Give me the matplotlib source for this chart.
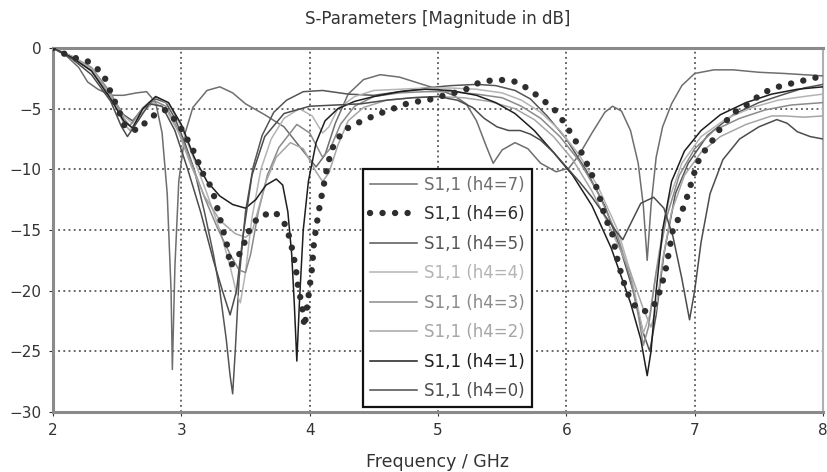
import numpy as np
import matplotlib
matplotlib.use("Agg")
import matplotlib.pyplot as plt


# S11 curves (frequency in GHz, magnitude in dB)
f_h7 = [2.0, 2.1, 2.2, 2.27, 2.35, 2.45, 2.55, 2.65, 2.73, 2.8, 2.85, 2.89, 2.92, 2.93, 2.95, 2.98,
        3.03, 3.09, 3.2, 3.3, 3.4, 3.5, 3.65, 3.8, 3.95, 4.05, 4.12, 4.2, 4.3, 4.42, 4.55, 4.7, 4.85,
        5.0, 5.12, 5.22, 5.3, 5.38, 5.43, 5.5, 5.6, 5.7, 5.8, 5.92, 6.02, 6.1, 6.2, 6.3, 6.36, 6.43,
        6.5, 6.56, 6.6, 6.63, 6.66, 6.7, 6.75, 6.82, 6.9, 7.0, 7.15, 7.3, 7.5, 7.7, 7.85, 8.0]
s_h7 = [0, -0.6, -1.6, -2.8, -3.4, -3.9, -3.9, -3.7, -3.6, -4.5, -7, -12, -20, -26.5, -18, -11,
        -7, -4.9, -3.5, -3.2, -3.7, -4.6, -5.5, -6.5, -8.5, -9.8, -8.8, -6.2, -3.8, -2.6, -2.2, -2.4, -2.9,
        -3.4, -3.9, -4.6, -6.0, -8.2, -9.5, -8.4, -7.8, -8.3, -9.5, -10.2, -9.9, -8.8, -7.0, -5.3, -4.8, -5.2,
        -6.8, -9.5, -13, -17.5, -13, -9, -6.5, -4.6, -3.1, -2.1, -1.8, -1.8, -2.0, -2.1, -2.2, -2.3]

f_h6 = [2.0, 2.13, 2.27, 2.39, 2.44, 2.51, 2.56, 2.66, 2.76, 2.87, 2.97, 3.04, 3.11, 3.16, 3.24, 3.28,
        3.32, 3.36, 3.38, 3.42, 3.47, 3.52, 3.6, 3.73, 3.82, 3.86, 3.89, 3.91, 3.94, 3.96, 4.0, 4.02,
        4.03, 4.05, 4.08, 4.11, 4.14, 4.18, 4.26, 4.39, 4.52, 4.65, 4.78, 4.92, 5.05, 5.2, 5.33, 5.47,
        5.62, 5.72, 5.82, 5.93, 6.01, 6.08, 6.15, 6.21, 6.26, 6.3, 6.36, 6.39, 6.43, 6.47, 6.55, 6.62,
        6.68, 6.73, 6.77, 6.8, 6.83, 6.9, 6.95, 6.99, 7.04, 7.14, 7.22, 7.31, 7.42, 7.53, 7.65, 7.8,
        7.92, 8.0]
s_h6 = [0, -0.7, -1.1, -2.1, -3.4, -5.1, -6.5, -6.8, -5.7, -5.1, -6.1, -7.4, -8.8, -10.2, -11.6, -13.2,
        -14.8, -16.4, -18.0, -17.5, -16.7, -15.2, -13.9, -13.5, -14.7, -16.4, -18, -19.7, -21.2, -23, -19.7, -18,
        -16.4, -14.8, -12.9, -11.3, -9.6, -8.2, -6.8, -6.1, -5.5, -5.0, -4.5, -4.3, -3.9, -3.5, -2.8, -2.6,
        -2.8, -3.5, -4.3, -5.3, -6.6, -7.8, -9.3, -10.7, -12.3, -13.9, -15.4, -17.1, -18.7, -20.1, -21.5, -21.7,
        -21.3, -20, -18.5, -16.8, -15, -13.5, -12, -10.5, -9, -7.6, -6.3, -5.3, -4.6, -3.7, -3.2, -2.8,
        -2.5, -2.3]

f_h5 = [2.0, 2.15, 2.3, 2.45, 2.55, 2.62, 2.7, 2.8, 2.88, 2.95, 3.02, 3.1, 3.18, 3.25, 3.3, 3.35,
        3.38, 3.4, 3.42, 3.45, 3.5, 3.56, 3.63, 3.72, 3.82, 3.95, 4.1, 4.3, 4.5, 4.7, 4.9, 5.1, 5.3,
        5.45, 5.6, 5.72, 5.85, 6.0, 6.15, 6.3, 6.42, 6.52, 6.6, 6.65, 6.7, 6.76, 6.85, 6.95, 7.1, 7.3,
        7.5, 7.7, 7.85, 8.0]
s_h5 = [0, -0.8, -1.8, -3.9, -5.5, -6.0, -5.0, -4.2, -4.5, -5.8, -7.6, -10, -13.5, -17, -20, -24,
        -27, -28.5, -25, -19, -13.5, -9.8, -7.2, -5.3, -4.3, -3.6, -3.5, -3.8, -3.9, -3.6, -3.3, -3.1, -3.0,
        -3.1, -3.5, -4.2, -5.6, -7.5, -10, -13, -16.5, -20, -23.5, -25, -22, -17, -12, -9.5, -7.2, -5.5,
        -4.5, -3.8, -3.3, -3.0]

f_h4 = [2.0, 2.15, 2.3, 2.45, 2.55, 2.62, 2.7, 2.8, 2.9, 3.0, 3.1, 3.2, 3.3, 3.38, 3.43, 3.46,
        3.5, 3.55, 3.62, 3.7, 3.8, 3.92, 4.02, 4.1, 4.15, 4.22, 4.35, 4.5, 4.7, 4.9, 5.1, 5.3, 5.5,
        5.65, 5.8, 5.95, 6.1, 6.25, 6.4, 6.5, 6.56, 6.6, 6.65, 6.72, 6.8, 6.9, 7.05, 7.25, 7.45, 7.65,
        7.85, 8.0]
s_h4 = [0, -0.7, -1.7, -3.8, -5.6, -6.2, -4.9, -4.0, -4.6, -6.5, -9.2, -12, -15, -18, -20.2, -21,
        -18.5, -14, -10, -7.5, -5.8, -5.0, -5.6, -7.0, -6.5, -5.0, -4.0, -3.5, -3.4, -3.3, -3.3, -3.4, -3.7,
        -4.3, -5.3, -6.8, -8.8, -11.5, -15, -18.5, -21.5, -23.5, -22, -17, -12.5, -9.5, -7.3, -5.8, -4.9, -4.3,
        -4.0, -3.8]

f_h3 = [2.0, 2.15, 2.3, 2.45, 2.55, 2.6, 2.68, 2.78, 2.88, 2.98, 3.08, 3.18, 3.28, 3.38, 3.45, 3.5,
        3.54, 3.6, 3.67, 3.76, 3.9, 4.0, 4.1, 4.16, 4.24, 4.35, 4.5, 4.7, 4.9, 5.1, 5.3, 5.5, 5.65, 5.8,
        5.95, 6.1, 6.25, 6.4, 6.5, 6.56, 6.6, 6.64, 6.7, 6.78, 6.88, 7.0, 7.15, 7.35, 7.55, 7.75, 8.0]
s_h3 = [0, -0.7, -1.6, -3.7, -5.8, -6.4, -5.2, -4.3, -4.8, -6.8, -9.5, -12.3, -14.8, -17, -18.3, -18.5,
        -17, -13.5, -10.5, -8.2, -6.3, -7.0, -9.0, -8.3, -6.3, -4.8, -4.0, -3.7, -3.6, -3.6, -3.8, -4.1, -4.8,
        -5.8, -7.3, -9.3, -12, -15.5, -19, -22, -24.5, -23, -18.5, -14, -10.5, -8.3, -6.8, -5.8, -5.1, -4.7, -4.5]

f_h2 = [2.0, 2.15, 2.3, 2.45, 2.55, 2.6, 2.68, 2.78, 2.88, 2.98, 3.08, 3.18, 3.3, 3.42, 3.5, 3.55,
        3.6, 3.66, 3.74, 3.85, 3.95, 4.05, 4.1, 4.15, 4.22, 4.3, 4.42, 4.6, 4.8, 5.0, 5.2, 5.4, 5.6,
        5.75, 5.9, 6.05, 6.2, 6.35, 6.5, 6.6, 6.66, 6.7, 6.75, 6.82, 6.92, 7.05, 7.2, 7.4, 7.6, 7.7,
        7.85, 8.0]
s_h2 = [0, -0.7, -1.7, -3.9, -6.2, -6.8, -5.5, -4.5, -5.0, -7.0, -9.8, -12.2, -14.2, -15.3, -15.6, -15.2,
        -13.3, -11, -9.0, -7.8, -8.3, -10.2, -11, -10.3, -8.0, -6.0, -4.9, -4.3, -4.1, -4.0, -4.1, -4.4, -5.0,
        -5.9, -7.3, -9.2, -11.8, -15, -18.5, -21.5, -23, -21.5, -17.5, -13.5, -10.5, -8.6, -7.3, -6.3, -5.6, -5.6,
        -5.7, -5.6]

f_h1 = [2.0, 2.15, 2.3, 2.45, 2.55, 2.62, 2.7, 2.8, 2.9, 3.0, 3.1, 3.2, 3.3, 3.4, 3.5, 3.58,
        3.66, 3.74, 3.79, 3.83, 3.86, 3.88, 3.9, 3.92, 3.95, 3.99, 4.05, 4.12, 4.22, 4.35, 4.5, 4.7, 4.9,
        5.1, 5.3, 5.45, 5.6, 5.75, 5.9, 6.05, 6.2, 6.35, 6.5, 6.58, 6.63, 6.66, 6.7, 6.75, 6.82, 6.92,
        7.05, 7.2, 7.4, 7.6, 7.8, 8.0]
s_h1 = [0, -0.8, -1.9, -4.2, -6.0, -6.6, -5.0, -4.0, -4.5, -6.3, -9.0, -11.0, -12.2, -12.9, -13.2, -12.5,
        -11.3, -10.8, -11.3, -13.5, -17, -21, -25.8, -21, -15, -11, -7.8, -6.0, -5.0, -4.4, -4.0, -3.6, -3.4,
        -3.5, -3.9, -4.5, -5.4, -6.8, -8.6, -10.5, -13, -16.5, -21, -24, -27, -25, -20, -15, -11, -8.5,
        -6.8, -5.5, -4.5, -3.8, -3.4, -3.2]

f_h0 = [2.0, 2.15, 2.3, 2.45, 2.53, 2.58, 2.65, 2.75, 2.85, 2.95, 3.05, 3.15, 3.25, 3.32, 3.38, 3.43,
        3.48, 3.55, 3.65, 3.8, 4.0, 4.2, 4.4, 4.6, 4.8, 5.0, 5.15, 5.27, 5.36, 5.46, 5.55, 5.64, 5.72, 5.8,
        5.9, 6.0, 6.1, 6.2, 6.3, 6.38, 6.44, 6.5, 6.58, 6.68, 6.76, 6.83, 6.9, 6.96, 7.0, 7.05, 7.12, 7.22,
        7.35, 7.5, 7.64, 7.72, 7.8, 7.9, 8.0]
s_h0 = [0, -0.9, -2.2, -4.4, -6.4, -7.3, -6.2, -4.6, -4.8, -6.8, -10, -13.5, -17.5, -20, -22, -20,
        -15.5, -10.5, -7.3, -5.4, -4.8, -4.7, -4.6, -4.3, -4.1, -4.0, -4.3, -4.9, -5.8, -6.5, -6.8, -6.8, -7.1, -7.6,
        -8.6, -9.8, -11, -12.3, -13.8, -15, -15.8, -14.5, -12.8, -12.3, -13.2, -15.5, -19, -22.4, -20, -16, -12, -9.2,
        -7.5, -6.5, -5.9, -6.2, -6.9, -7.3, -7.5]

labels = ["S1,1 (h4=7)", "S1,1 (h4=6)", "S1,1 (h4=5)", "S1,1 (h4=4)",
          "S1,1 (h4=3)", "S1,1 (h4=2)", "S1,1 (h4=1)", "S1,1 (h4=0)"]
colors = ["#6e6e6e", "#2e2e2e", "#555555", "#b4b4b4", "#8a8a8a", "#a6a6a6", "#1e1e1e", "#4c4c4c"]

curves = [(f_h7, s_h7), (f_h6, s_h6), (f_h5, s_h5), (f_h4, s_h4),
          (f_h3, s_h3), (f_h2, s_h2), (f_h1, s_h1), (f_h0, s_h0)]

# Plotting
fig = plt.figure(figsize=(8.27, 4.72), dpi=100)
ax = fig.add_axes([53/827, 1-412/472, 770/827, 364/472])

for i, (f, s) in enumerate(curves):
    if i == 1:
        ax.plot(f, s, color=colors[i], lw=4.6, linestyle=(0, (0.01, 1.95)),
                dash_capstyle="round", label=labels[i], zorder=5)
    else:
        ax.plot(f, s, color=colors[i], lw=1.1, label=labels[i], zorder=3)

ax.set_xlim(2, 8)
ax.set_ylim(-30, 0)
ax.set_xticks([2, 3, 4, 5, 6, 7, 8])
ax.set_yticks([0, -5, -10, -15, -20, -25, -30])
ax.grid(True, color="#3c3c3c", linestyle=(0, (1.2, 2.2)), lw=1.1)
ax.tick_params(labelsize=11, colors="#333333", length=3, pad=5)
for side in ["top", "bottom", "left"]:
    ax.spines[side].set_color("#8a8a8a")
    ax.spines[side].set_linewidth(2.2)
ax.spines["right"].set_color("#b0b0b0")
ax.spines["right"].set_linewidth(1.5)

ax.set_title("S-Parameters [Magnitude in dB]", fontsize=12, color="#333333", pad=17)
ax.set_xlabel("Frequency / GHz", fontsize=12.5, color="#333333", labelpad=11)

leg = ax.legend(loc="upper left", bbox_to_anchor=(0.403, 0.668), borderaxespad=0,
                fontsize=12, labelspacing=0.69, handlelength=2.8, handletextpad=0.45,
                fancybox=False, framealpha=1, edgecolor="#111111", borderpad=0.4)
leg.get_frame().set_linewidth(1.6)
for txt, c in zip(leg.get_texts(), colors):
    txt.set_color(c)

plt.savefig("out.png", dpi=100)
